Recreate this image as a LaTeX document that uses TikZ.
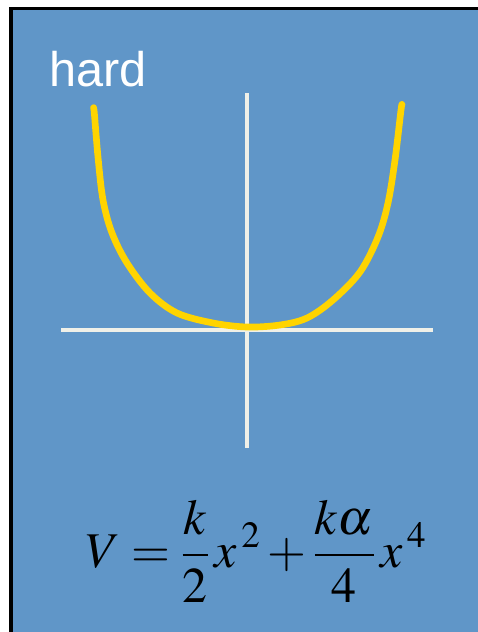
\documentclass[tikz,border=0pt]{standalone}
\usepackage{mathptmx}
\usepackage{fontspec}
\newfontfamily\labelfont{Liberation Sans}
\definecolor{panelblue}{RGB}{96,150,200}
\definecolor{curveyellow}{RGB}{255,212,0}
\definecolor{axiswhite}{RGB}{240,240,232}
\tikzset{
  axisline/.style={draw=axiswhite, line width=3.2pt},
  potential/.style={draw=curveyellow, line width=5pt, line cap=round, line join=round},
  titletext/.style={text=white, font=\labelfont\fontsize{36.5}{40}\selectfont, inner sep=0pt, anchor=base west},
  formula/.style={text=black, inner sep=0pt}
}
\begin{document}
\begin{tikzpicture}[x=0.75pt, y=-0.75pt]
\useasboundingbox (0,0) rectangle (478,632);
\fill[white] (0,0) rectangle (478,632);
\begin{scope}
\clip (0,0) rectangle (478,632);
\filldraw[fill=panelblue, draw=black, line width=2.8pt] (11,8.5) rectangle (500,660);
\end{scope}
\node[titletext] (title) at (49,86) {hard};
\coordinate (vtop) at (247,93);
\coordinate (vbot) at (247,448);
\coordinate (hleft) at (61,330);
\coordinate (hright) at (433,330);
\draw[axisline] (vtop) -- (vbot);
\draw[axisline] (hleft) -- (hright);
\draw[potential] plot[smooth, tension=0.55] coordinates {
  (93.5,108) (94.3,113) (98,157) (103,200) (112,233) (127,263) (150,293)
  (177,313) (213,323) (247,327) (280,325) (307,318) (333,300) (360,272)
  (378,237) (388,203) (395,160) (401,110) (402,105)};
\node[formula] (eq) at (256,551) {\fontsize{37.5}{42}\selectfont$\displaystyle V=\frac{k}{2}\,x^{\,2}+\frac{k\alpha}{4}\,x^{\,4}$};
\end{tikzpicture}
\end{document}
